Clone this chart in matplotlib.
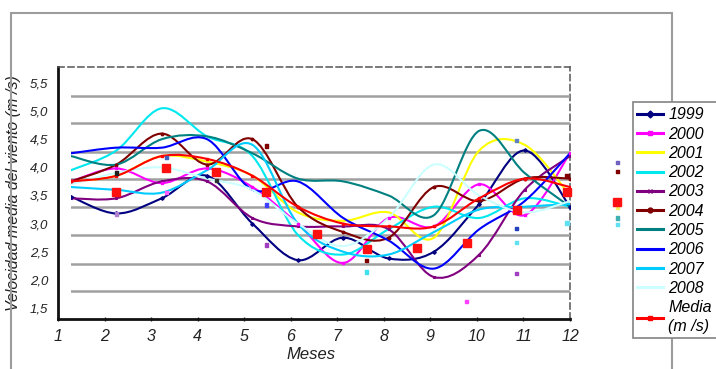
import numpy as np
import matplotlib
matplotlib.use("Agg")
import matplotlib.pyplot as plt
from matplotlib.path import Path
from matplotlib.patches import PathPatch, Rectangle
from matplotlib.lines import Line2D

plt.rcParams['font.family'] = ['Liberation Sans', 'DejaVu Sans']
plt.rcParams['font.style'] = 'italic'

# ---- data -------------------------------------------------------------
months = list(range(1, 13))
x_tick_labels = [str(m) for m in months]
y_ticks = [1.5, 2.0, 2.5, 3.0, 3.5, 4.0, 4.5, 5.0, 5.5]
y_tick_labels = ['1,5', '2,0', '2,5', '3,0', '3,5', '4,0', '4,5', '5,0', '5,5']
grid_levels = [1.81, 2.29, 2.80, 3.29, 3.79, 4.28, 4.78, 5.27]

v1999 = [3.48, 3.18, 3.45, 3.85, 3.00, 2.35, 2.75, 2.38, 2.50, 3.35, 4.30, 3.30]
v2000 = [3.75, 3.98, 3.72, 3.98, 3.65, 3.00, 2.30, 3.10, 2.95, 3.70, 3.15, 4.25]
v2001 = [3.75, 3.85, 4.20, 4.10, 3.85, 3.20, 3.05, 3.20, 2.75, 4.30, 4.40, 3.50]
v2002 = [3.95, 4.30, 5.05, 4.55, 4.20, 2.80, 2.45, 2.90, 3.30, 3.10, 3.45, 3.30]
v2003 = [3.45, 3.45, 3.75, 3.75, 3.10, 2.95, 2.95, 2.90, 2.05, 2.45, 3.60, 4.20]
v2004 = [3.75, 4.05, 4.60, 4.05, 4.50, 3.30, 2.85, 2.75, 3.65, 3.40, 3.80, 3.80]
v2005 = [4.20, 4.05, 4.50, 4.55, 4.25, 3.80, 3.75, 3.50, 3.15, 4.65, 3.90, 3.30]
v2006 = [4.25, 4.35, 4.35, 4.50, 3.60, 3.75, 3.10, 2.70, 2.20, 2.90, 3.40, 4.25]
v2007 = [3.65, 3.60, 3.55, 3.95, 4.40, 3.00, 2.50, 2.45, 2.85, 3.25, 3.30, 3.35]
v2008 = [3.70, 3.90, 4.00, 3.80, 3.60, 3.00, 2.60, 3.10, 4.05, 3.50, 3.20, 3.40]
media = [3.75, 3.85, 4.20, 4.15, 3.85, 3.30, 3.00, 2.95, 2.95, 3.45, 3.80, 3.65]

series_labels = ['1999', '2000', '2001', '2002', '2003', '2004', '2005',
                 '2006', '2007', '2008', 'Media\n(m /s)']
series_values = [v1999, v2000, v2001, v2002, v2003, v2004, v2005,
                 v2006, v2007, v2008, media]
series_colors = ['#000080', '#ff00ff', '#ffff00', '#00e8ef', '#800080',
                 '#800000', '#008080', '#0000ff', '#00ccff', '#ccffff',
                 '#ff0000']
series_markers = ['D', 's', None, None, 'x', 'o', None, None, None, None, 's']

# monthly means drawn as a separate scatter layer
mean_pos = [2, 3, 4, 5, 6, 7, 8, 9, 10, 11, 12]
mean_pts = [3.57, 3.98, 3.92, 3.56, 2.82, 2.55, 2.57, 2.66, 3.24, 3.56, 3.38]
dot_pos = [2, 2, 3, 3, 4, 5, 5, 5, 7, 7, 9, 10, 10, 10, 10, 11, 11,
           12, 12, 12, 12, 12]
dot_val = [3.90, 3.17, 4.17, 3.56, 3.76, 4.38, 2.62, 3.33, 2.34, 2.14, 1.61,
           4.47, 2.92, 2.66, 2.11, 3.85, 3.01, 4.08, 3.92, 3.28, 3.10, 2.98]
dot_col = ['#202020', '#b080d0', '#4060c0', '#ff60ff', '#303030', '#800000',
           '#a040c0', '#4040ff', '#800000', '#40e0f0', '#ff40ff', '#6080c0',
           '#2040c0', '#60e0f0', '#a040c0', '#800000', '#60e0f0', '#7060c0',
           '#800000', '#f0f060', '#40b0b0', '#60e0f0']

# ---- layout -----------------------------------------------------------
W, H = 716, 369
fig = plt.figure(figsize=(W / 100, H / 100), dpi=100)
fig.patch.set_facecolor('white')


def box(left, top, right, bottom):
    return [left / W, 1 - bottom / H, (right - left) / W, (bottom - top) / H]


YLIM = (1.304, 5.784)

# outer frame of the chart object
fig.patches.append(Rectangle((11 / W, -0.1), (672 - 11) / W, 1 - 13 / H + 0.1,
                             transform=fig.transFigure, fill=False,
                             edgecolor='#9c9c9c', lw=1.5, zorder=1))

# axis frame with tick labels
ax = fig.add_axes(box(58, 67, 570, 319))
ax.set_xlim(1, 12)
ax.set_ylim(*YLIM)
ax.set_xticks(months)
ax.set_xticklabels(x_tick_labels)
ax.set_yticks(y_ticks)
ax.set_yticklabels(y_tick_labels)
ax.tick_params(axis='x', length=3, width=1, direction='inout', pad=6,
               labelsize=11.5, colors='#222222')
ax.tick_params(axis='y', length=0, pad=7, labelsize=9.5, colors='#222222')
for side in ('left', 'bottom'):
    ax.spines[side].set_linewidth(2)
    ax.spines[side].set_color('#111111')
for side in ('top', 'right'):
    ax.spines[side].set_linewidth(1.1)
    ax.spines[side].set_color('#555555')
    ax.spines[side].set_linestyle((0, (4, 2.5)))
ax.set_ylabel('Velocidad media del viento (m /s)', fontsize=11.5,
              color='#222222')
ax.yaxis.set_label_coords((21 - 58) / 512, 0.5)
ax.set_xlabel('Meses', fontsize=12, color='#222222')
ax.xaxis.set_label_coords((311 - 58) / 512, (319 - 347) / 252)

# smoothed monthly series
axl = fig.add_axes(box(71, 67, 570, 319))
axl.set_xlim(1, 12)
axl.set_ylim(*YLIM)
axl.axis('off')
axl.patch.set_alpha(0)
for g in grid_levels:
    axl.axhline(g, color='#a0a0a0', lw=1.8, zorder=1)


def smooth_path(xs, ys):
    pts = np.column_stack([xs, ys]).astype(float)
    n = len(pts)
    verts = [pts[0]]
    codes = [Path.MOVETO]
    for i in range(n - 1):
        p0 = pts[max(i - 1, 0)]
        p1 = pts[i]
        p2 = pts[i + 1]
        p3 = pts[min(i + 2, n - 1)]
        c1 = p1 + (p2 - p0) / 6.0
        c2 = p2 - (p3 - p1) / 6.0
        verts += [c1, c2, p2]
        codes += [Path.CURVE4] * 3
    return Path(verts, codes)


draw_order = [9, 8, 2, 3, 6, 7, 4, 5, 1, 0, 10]
for i in draw_order:
    vals = series_values[i]
    patch = PathPatch(smooth_path(months, vals), fill=False,
                      edgecolor=series_colors[i], lw=1.5, zorder=2 + i * 0.01,
                      capstyle='round', joinstyle='round')
    axl.add_patch(patch)
    if series_markers[i] is not None:
        axl.plot(months, vals, ls='none', marker=series_markers[i], ms=1.8,
                 color=series_colors[i], zorder=3)

# scatter layer of monthly means
axs = fig.add_axes(box(58, 67, 570, 319))
axs.set_xlim(0.84, 11.06)
axs.set_ylim(*YLIM)
axs.axis('off')
axs.patch.set_alpha(0)
axs.scatter(dot_pos, dot_val, s=5, c=dot_col, marker='s', clip_on=False,
            zorder=4)
axs.plot(mean_pos, mean_pts, ls='none', marker='s', ms=5.5, color='#ff1010',
         clip_on=False, zorder=5)

# legend
fig.patches.append(Rectangle((633 / W, 1 - 338 / H), (730 - 633) / W,
                             (338 - 102) / H, transform=fig.transFigure,
                             facecolor='white', edgecolor='#8c8c8c', lw=1.3,
                             zorder=2))
handles = []
for c, m in zip(series_colors, series_markers):
    handles.append(Line2D([], [], color=c, lw=2.2, marker=m, ms=3.5,
                          markeredgewidth=1))
leg = fig.legend(handles, series_labels, loc='upper left',
                 bbox_to_anchor=(634 / W, 1 - 104 / H), frameon=False,
                 fontsize=11.5, handlelength=1.6, handletextpad=0.35,
                 labelspacing=0.27, borderpad=0.2, borderaxespad=0)
for t in leg.get_texts():
    t.set_linespacing(1.3)

fig.savefig('out.png', dpi=100, facecolor='white')
